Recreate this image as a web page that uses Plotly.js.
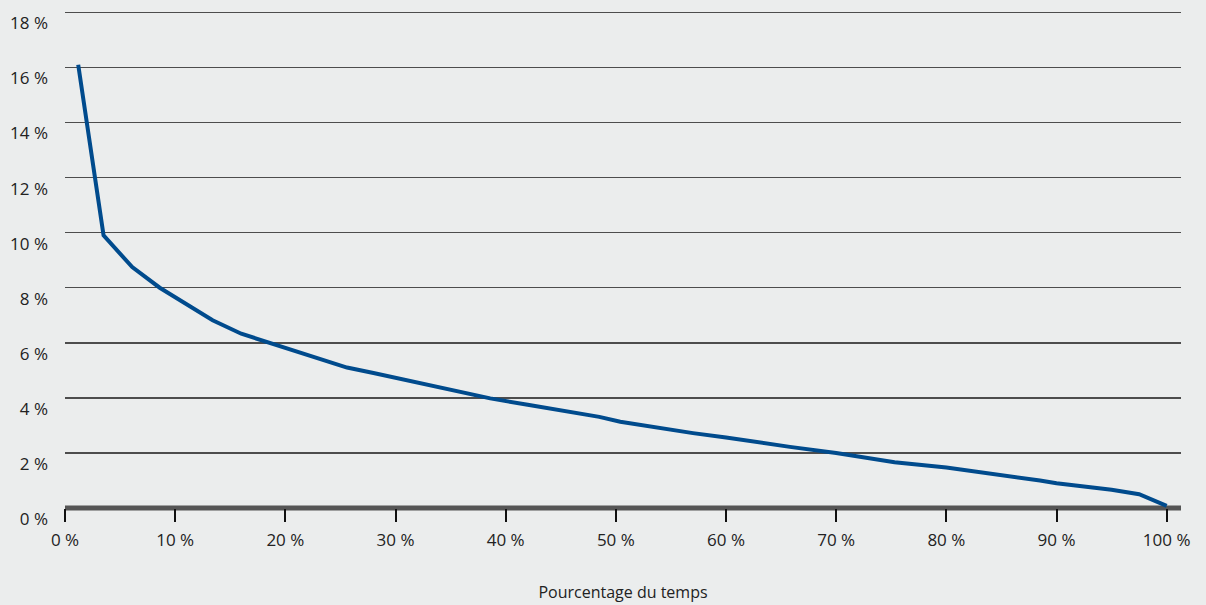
<!DOCTYPE html>
<html>
<head>
<meta charset="utf-8">
<script src="https://cdn.plot.ly/plotly-3.0.1.min.js"></script>
<style>
  html, body { margin: 0; padding: 0; background: #ebeded; }
  #chart { width: 1206px; height: 605px; }
</style>
</head>
<body>
<div id="chart"></div>
<script>
// Pourcentage du temps (x, %) and value (y, %)
const timePct = [1.2, 3.5, 6.1, 8.6, 11, 13.4, 16, 18.6, 21, 23.5, 25.6, 28, 31, 35, 38.6, 42, 45, 48.5, 50.4, 53.1, 57, 60, 63, 65.8, 70, 75.3, 80, 84.8, 88.5, 90, 95, 97.5, 100];
const valuePct = [16.1, 9.9, 8.75, 8.0, 7.41, 6.82, 6.33, 6.0, 5.7, 5.4, 5.1, 4.9, 4.65, 4.28, 3.98, 3.75, 3.56, 3.31, 3.13, 2.95, 2.72, 2.56, 2.38, 2.22, 2.0, 1.66, 1.47, 1.22, 1.0, 0.9, 0.66, 0.5, 0.08];

const xTicks = [0, 10, 20, 30, 40, 50, 60, 70, 80, 90, 100];
const xTickLabels = ['0 %', '10 %', '20 %', '30 %', '40 %', '50 %', '60 %', '70 %', '80 %', '90 %', '100 %'];
const yTicks = [0, 2, 4, 6, 8, 10, 12, 14, 16, 18];
const yTickLabels = ['0 %', '2 %', '4 %', '6 %', '8 %', '10 %', '12 %', '14 %', '16 %', '18 %'];
const xTitle = 'Pourcentage du temps';

const font = { family: '"Open Sans", sans-serif', size: 16, color: '#222222' };
const tickFont = { family: '"Open Sans", sans-serif', size: 17, color: '#222222' };

const data = [{
  x: timePct,
  y: valuePct,
  type: 'scatter',
  mode: 'lines',
  line: { color: '#004b8d', width: 4 },
  hoverinfo: 'x+y',
  cliponaxis: false
}];

const layout = {
  width: 1206,
  height: 605,
  paper_bgcolor: '#ebeded',
  plot_bgcolor: '#ebeded',
  font: font,
  showlegend: false,
  margin: { l: 65, r: 25, t: 11, b: 97 },
  xaxis: {
    range: [0, 101.3],
    tickmode: 'array',
    tickvals: xTicks,
    ticktext: xTickLabels,
    showgrid: false,
    zeroline: false,
    showline: false,
    ticks: 'outside',
    ticklen: 13,
    tickwidth: 2,
    tickcolor: '#111111',
    ticklabelstandoff: 4,
    tickfont: tickFont,
    title: { text: xTitle, font: font, standoff: 36 },
    fixedrange: true
  },
  yaxis: {
    range: [0, 18.05],
    tickmode: 'array',
    tickvals: yTicks,
    ticktext: yTickLabels,
    showgrid: true,
    gridcolor: '#4d4d4d',
    gridwidth: 1.5,
    zeroline: false,
    showline: false,
    ticks: '',
    ticklabelshift: 11,
    ticklabelstandoff: 16,
    tickfont: tickFont,
    fixedrange: true
  },
  shapes: [{
    type: 'line',
    xref: 'paper', yref: 'paper',
    x0: 0, x1: 1, y0: 0, y1: 0,
    line: { color: '#555555', width: 5 },
    layer: 'below'
  }]
};

Plotly.newPlot('chart', data, layout, { displayModeBar: false, staticPlot: true });
</script>
</body>
</html>
